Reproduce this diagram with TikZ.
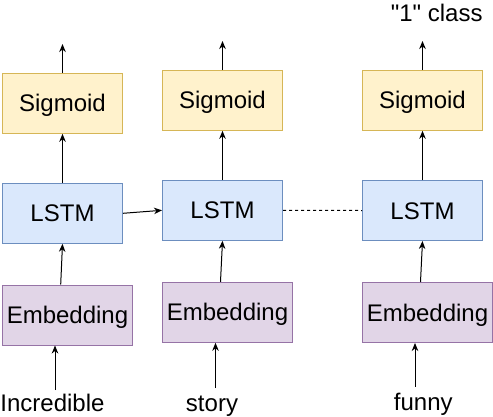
\documentclass[tikz,border=0pt]{standalone}
\usepackage{fontspec}
\setmainfont{Liberation Sans}[Ligatures=TeXOff]
\usetikzlibrary{arrows.meta}
\definecolor{sigfill}{HTML}{FFF2CC}
\definecolor{sigdraw}{HTML}{D6B656}
\definecolor{lstmfill}{HTML}{DAE8FC}
\definecolor{lstmdraw}{HTML}{6C8EBF}
\definecolor{embfill}{HTML}{E1D5E7}
\definecolor{embdraw}{HTML}{9673A6}
\begin{document}
\begin{tikzpicture}[x=1pt,y=-1pt,
  every node/.style={font=\fontsize{24}{28}\selectfont},
  box/.style={draw, line width=1pt, inner sep=0pt, minimum height=60pt, text height=17.2pt, text depth=0pt},
  sigbox/.style={box, fill=sigfill, draw=sigdraw, minimum width=120pt},
  lstmbox/.style={box, fill=lstmfill, draw=lstmdraw, minimum width=120pt},
  embbox/.style={box, fill=embfill, draw=embdraw, minimum width=130pt},
  word/.style={anchor=base, inner sep=0pt},
  arr/.style={line width=1pt, -{Stealth[length=8pt,width=6.5pt,inset=2.5pt]}}
]
\useasboundingbox (0,0) rectangle (493,416);
% column 1
\node[sigbox] (sig1) at (62.5,103.3) {Sigmoid};
\node[lstmbox] (lstm1) at (62.5,213.3) {LSTM};
\node[embbox] (emb1) at (67.5,315) {Embedding};
% column 2
\node[sigbox] (sig2) at (222.5,100.3) {Sigmoid};
\node[lstmbox] (lstm2) at (222.5,210.3) {LSTM};
\node[embbox] (emb2) at (227.5,312.3) {Embedding};
% column 3
\node[sigbox] (sig3) at (422.5,100.3) {Sigmoid};
\node[lstmbox] (lstm3) at (422.5,210.5) {LSTM};
\node[embbox] (emb3) at (427.5,312.5) {Embedding};
% words
\node[word] (w1) at (52.5,411) {Incredible};
\node[word] (w2) at (212,411) {story};
\node[word] (w3) at (423.3,410.5) {funny};
\node[word] (cls) at (436.7,21.7) {"1" class};
% free ends
\coordinate (out1) at (62.5,44);
\coordinate (out2) at (222.5,41);
\coordinate (out3) at (422.5,41);
\coordinate (in1) at (55,390);
\coordinate (in2) at (215.5,388);
\coordinate (in3) at (415,386.7);
% connectors
\draw[arr] (sig1.north) -- (out1);
\draw[arr] (sig2.north) -- (out2);
\draw[arr] (sig3.north) -- (out3);
\draw[arr] (lstm1.north) -- (sig1.south);
\draw[arr] (lstm2.north) -- (sig2.south);
\draw[arr] (lstm3.north) -- (sig3.south);
\draw[arr] ([xshift=-6.8pt]emb1.north) -- (lstm1.south);
\draw[arr] ([xshift=-7pt]emb2.north) -- (lstm2.south);
\draw[arr] ([xshift=-7pt]emb3.north) -- (lstm3.south);
\draw[arr] (in1) -- ([xshift=-12.5pt]emb1.south);
\draw[arr] (in2) -- ([xshift=-12pt]emb2.south);
\draw[arr] (in3) -- ([xshift=-12.5pt]emb3.south);
\draw[arr] (lstm1.east) -- (lstm2.west);
\draw[line width=1pt, dash pattern=on 3pt off 3pt] (lstm2.east) -- (lstm3.west);
\end{tikzpicture}
\end{document}
